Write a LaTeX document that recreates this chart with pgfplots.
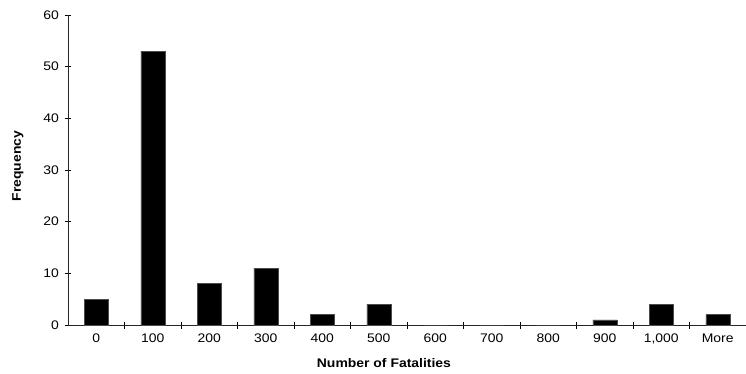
\documentclass[border=0pt]{standalone}
\usepackage{fontspec}
\setmainfont[FakeStretch=1.12]{Liberation Sans}
\usepackage{pgfplots}
\pgfplotsset{compat=1.18}

% Histogram of fatalities per event (bin upper limits)
\pgfplotstableread{
bin freq
0   5
1   53
2   8
3   11
4   2
5   4
6   0
7   0
8   0
9   1
10  4
11  2
}\fatalities

\begin{document}
\begin{tikzpicture}
\begin{axis}[
  scale only axis,
  width=678bp, height=310bp,
  at={(0,0)}, anchor=south west,
  xmin=-0.5, xmax=11.5,
  ymin=0, ymax=60,
  axis x line=bottom, axis y line=left,
  axis line style={-, black!85, line width=0.6pt},
  xtick={0,...,11},
  xticklabels={0,100,200,300,400,500,600,700,800,900,{1,000},More},
  minor xtick={0.5,1.5,...,10.5},
  major x tick style={draw=none},
  minor tick length=7bp,
  major tick length=7bp,
  tick align=center,
  tick style={black, line width=0.6pt},
  ytick={0,10,...,60},
  font=\fontsize{12.5}{14}\selectfont,
  /pgf/number format/assume math mode=true,
  ticklabel style={font=\fontsize{12.5}{14}\selectfont},
  xticklabel style={yshift=-2bp},
  yticklabel style={xshift=-2bp},
  xlabel={\bfseries Number of Fatalities},
  ylabel={\bfseries Frequency},
  xlabel style={at={(axis description cs:0.466,0)}, anchor=center, yshift=-38bp},
  ylabel style={at={(axis description cs:0,0.513)}, anchor=center, yshift=50bp},
  clip=false,
]
\addplot[ybar, bar width=24bp, fill=black, draw=black!70, line width=0.4pt]
  table[x=bin, y=freq] {\fatalities};
\end{axis}
\pgfresetboundingbox
\path[use as bounding box] (-68bp,-49bp) rectangle (678bp,325bp);
\end{tikzpicture}
\end{document}
